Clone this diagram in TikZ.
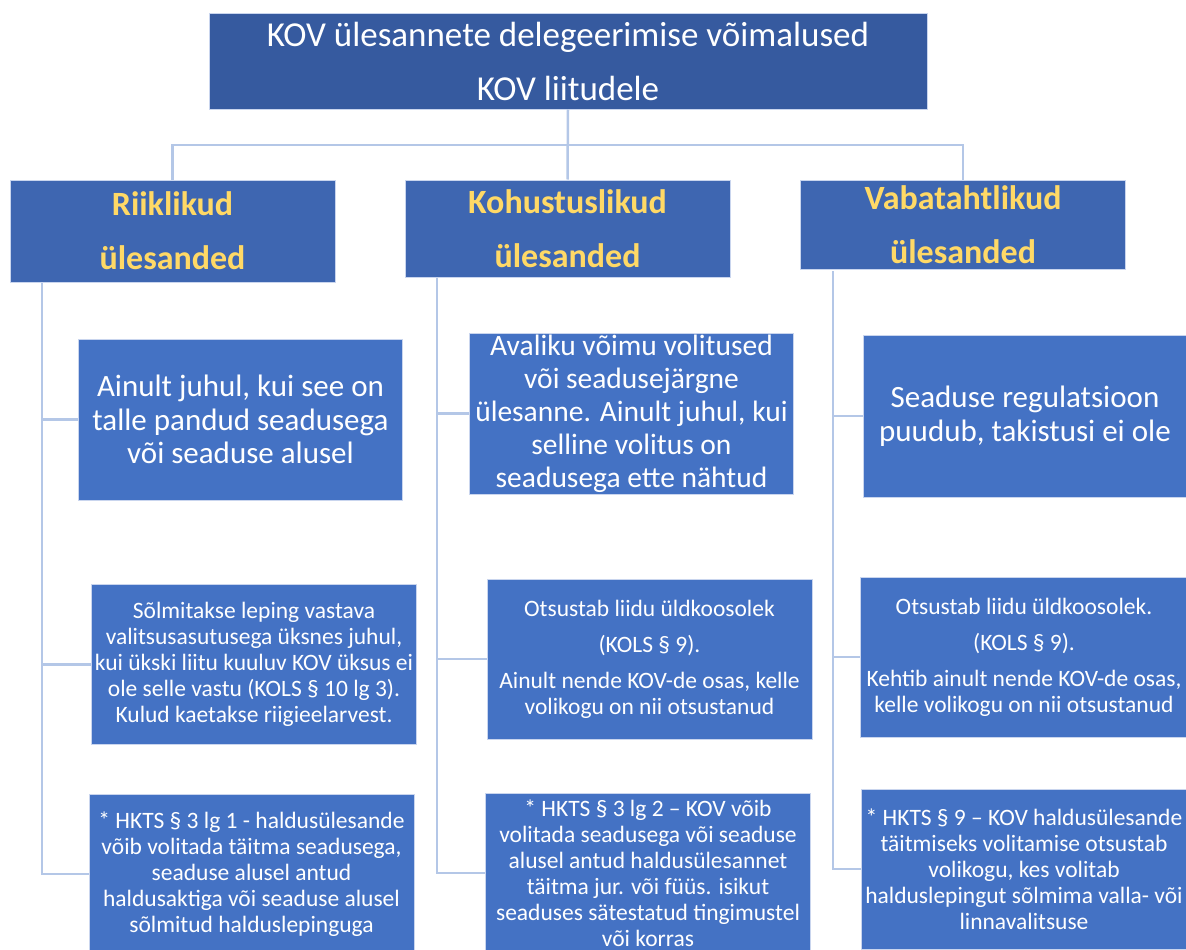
\documentclass[tikz,border=0pt]{standalone}
\usepackage{fontspec}
\setmainfont{Carlito}
\usepackage{xcolor}
\definecolor{ttlblue}{HTML}{365A9F}
\definecolor{lvlblue}{HTML}{3E66B1}
\definecolor{boxblue}{HTML}{4472C4}
\definecolor{linkblue}{HTML}{B4C7E7}
\definecolor{edgeblue}{HTML}{C9D5EE}
\definecolor{lvlyellow}{HTML}{FFD966}
\tikzset{
  anybox/.style={draw=edgeblue, line width=1pt, inner sep=0pt, align=center, text=white},
  ttlbox/.style={anybox, fill=ttlblue, minimum width=718, minimum height=95,
    font=\fontsize{35}{54}\selectfont},
  lvlbox/.style={anybox, fill=lvlblue, minimum width=325, text=lvlyellow,
    font=\fontsize{34}{54}\selectfont\bfseries},
  bigbox/.style={anybox, fill=boxblue, minimum width=324, minimum height=161,
    font=\fontsize{31}{33.5}\selectfont},
  infobox/.style={anybox, fill=boxblue, minimum width=325, minimum height=160,
    font=\fontsize{23.5}{26}\selectfont},
  link/.style={draw=linkblue, line width=2.5pt}
}
\begin{document}
\begin{tikzpicture}[x=1pt, y=-1pt]
\useasboundingbox (0,0) rectangle (1186,950);
\clip (0,0) rectangle (1186,950);

\node[ttlbox] (title) at (568,61.5) {KOV ülesannete delegeerimise võimalused\\KOV liitudele};

\node[lvlbox, minimum height=102] (riik) at (172.5,231) {Riiklikud\\ülesanded};
\node[lvlbox, minimum height=97] (kohu) at (567.5,228.5) {Kohustuslikud\\ülesanded};
\node[lvlbox, minimum height=89] (vaba) at (963,224.5) {Vabatahtlikud\\ülesanded};

\node[bigbox] (riika) at (240.5,419.5) {Ainult juhul, kui see on\\talle pandud seadusega\\või seaduse alusel};
\node[infobox] (riikb) at (254,664.5) {Sõlmitakse leping vastava\\valitsusasutusega üksnes juhul,\\kui ükski liitu kuuluv KOV üksus ei\\ole selle vastu (KOLS § 10 lg 3).\\Kulud kaetakse riigieelarvest.};
\node[infobox] (riikc) at (251.5,874) {* HKTS § 3 lg 1 - haldusülesande\\võib volitada täitma seadusega,\\seaduse alusel antud\\haldusaktiga või seaduse alusel\\sõlmitud halduslepinguga};

\node[bigbox, font=\fontsize{29.5}{33}\selectfont] (kohua) at (631.5,413.5) {Avaliku võimu volitused\\või seadusejärgne\\ülesanne. Ainult juhul, kui\\selline volitus on\\seadusega ette nähtud};
\node[infobox] (kohub) at (649.5,659) {Otsustab liidu üldkoosolek\\[10pt](KOLS § 9).\\[10pt]Ainult nende KOV-de osas, kelle\\volikogu on nii otsustanud};
\node[infobox] (kohuc) at (648,873) {* HKTS § 3 lg 2 -- KOV võib\\volitada seadusega või seaduse\\alusel antud haldusülesannet\\täitma jur. või füüs. isikut\\seaduses sätestatud tingimustel\\või korras};

\node[bigbox, minimum height=162] (vabaa) at (1025,416) {Seaduse regulatsioon\\puudub, takistusi ei ole};
\node[infobox, minimum width=328] (vabab) at (1024,657) {Otsustab liidu üldkoosolek.\\[10pt](KOLS § 9).\\[10pt]Kehtib ainult nende KOV-de osas,\\kelle volikogu on nii otsustanud};
\node[infobox] (vabac) at (1024,869) {* HKTS § 9 -- KOV haldusülesande\\täitmiseks volitamise otsustab\\volikogu, kes volitab\\halduslepingut sõlmima valla- või\\linnavalitsuse};

\coordinate (bus) at (568,145);
\coordinate (riikrail) at (42,283);
\coordinate (kohurail) at (437,278);
\coordinate (vabarail) at (833,271);

\draw[link] (title.south) -- (kohu.north);
\draw[link] (riik.north) |- (bus) -| (vaba.north);

\draw[link] (riikrail) |- (riika.west);
\draw[link] (riikrail) |- (riikb.west);
\draw[link] (riikrail) |- (riikc.west);
\draw[link] (kohurail) |- (kohua.west);
\draw[link] (kohurail) |- (kohub.west);
\draw[link] (kohurail) |- (kohuc.west);
\draw[link] (vabarail) |- (vabaa.west);
\draw[link] (vabarail) |- (vabab.west);
\draw[link] (vabarail) |- (vabac.west);
\end{tikzpicture}
\end{document}
